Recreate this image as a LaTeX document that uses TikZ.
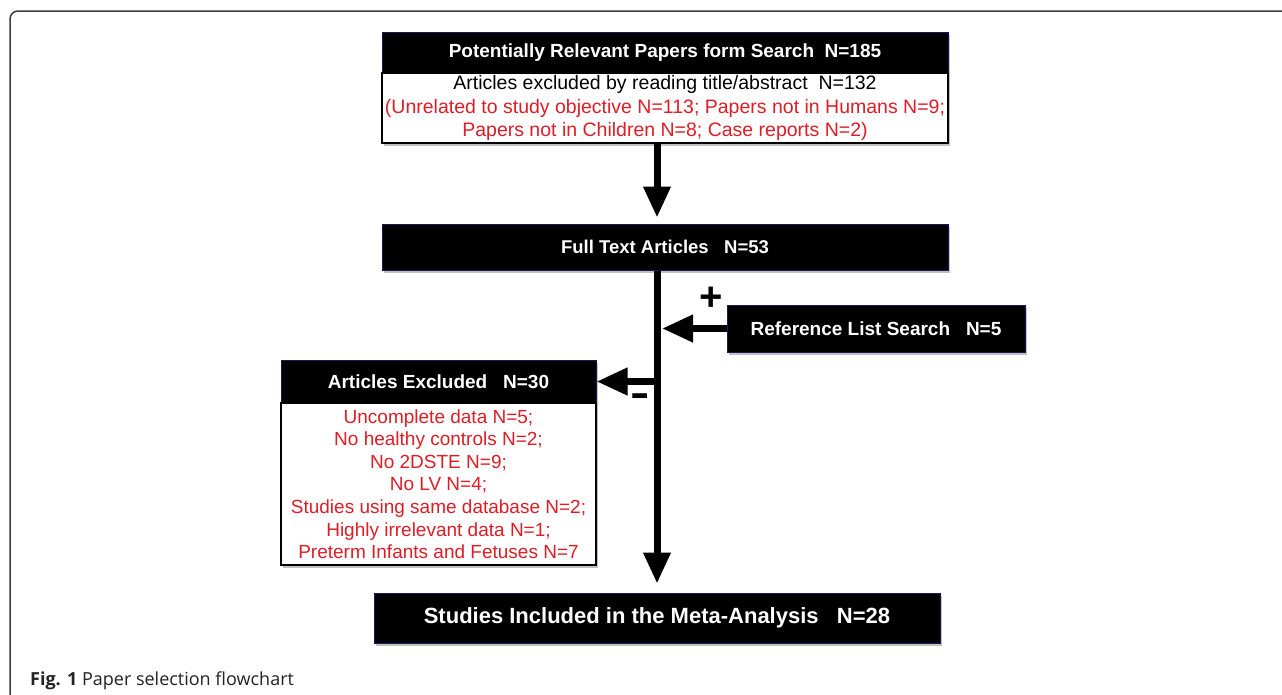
\documentclass[tikz,border=0pt]{standalone}
\usepackage{fontspec}
\setmainfont{Liberation Sans}
\newfontfamily\capfont{Open Sans}
\usetikzlibrary{arrows.meta,shadows}
\definecolor{redtxt}{RGB}{222,30,38}
\definecolor{navy}{RGB}{25,25,95}
\definecolor{framegray}{RGB}{60,60,60}
\definecolor{capgray}{RGB}{35,35,35}
\begin{document}
\begin{tikzpicture}[x=1pt,y=-1pt,
  shad/.style={drop shadow={shadow xshift=2pt,shadow yshift=-3pt,opacity=0.35,fill=black!70}},
  hdr/.style={shad,draw=navy,line width=1pt,fill=black,text=white,inner sep=0pt,align=center},
  bodybox/.style={shad,draw=black,line width=1.3pt,fill=white,inner sep=0pt,align=center},
  flow/.style={line width=7pt,-{Triangle[length=31pt,width=26pt]}},
  sign/.style={inner sep=0pt,font=\bfseries\fontsize{40}{40}\selectfont}
]
\useasboundingbox (0,0) rectangle (1282,694);
\fill[white] (0,0) rectangle (1282,694);
% frame
\draw[framegray,line width=1.5pt,rounded corners=8pt] (10,700) -- (10,11) -- (1290,11);

% top box
\node[hdr,minimum width=566pt,minimum height=41pt,font=\bfseries\fontsize{19}{22}\selectfont] (tophdr) at (665,52.5)
  {Potentially Relevant Papers form Search\ \ N=185};
\node[bodybox,minimum width=566pt,minimum height=70pt,font=\fontsize{19.5}{23.3}\selectfont] (topbody) at (665,108)
  {Articles excluded by reading title/abstract\ \ N=132\\
   \textcolor{redtxt}{(Unrelated to study objective N=113; Papers not in Humans N=9;}\\
   \textcolor{redtxt}{Papers not in Children N=8; Case reports N=2)}};

% full text
\node[hdr,minimum width=566pt,minimum height=46pt,font=\bfseries\fontsize{18.5}{22}\selectfont] (full) at (665,247)
  {Full Text Articles\ \ \ N=53};

% reference list
\node[hdr,minimum width=298pt,minimum height=47pt,font=\bfseries\fontsize{19}{22}\selectfont] (ref) at (876,328.5)
  {Reference List Search\ \ \ N=5};

% excluded
\node[hdr,minimum width=315pt,minimum height=43pt,font=\bfseries\fontsize{19}{22}\selectfont] (exchdr) at (438.5,381.5)
  {Articles Excluded\ \ \ N=30};
\node[bodybox,minimum width=315pt,minimum height=162pt,text=redtxt,font=\fontsize{19}{22.6}\selectfont] (excbody) at (438.5,484)
  {Uncomplete data N=5;\\
   No healthy controls N=2;\\
   No 2DSTE N=9;\\
   No LV N=4;\\
   Studies using same database N=2;\\
   Highly irrelevant data N=1;\\
   Preterm Infants and Fetuses N=7};

% bottom
\node[hdr,minimum width=566pt,minimum height=50pt,font=\bfseries\fontsize{22}{26}\selectfont] (bottom) at (657,618)
  {Studies Included in the Meta-Analysis\ \ \ N=28};

% signs
\node[sign] (plus) at (711,299) {+};
\node[sign] (minus) at (640,400) {\scalebox{1.45}[1]{-}};

% junctions
\coordinate (jref) at (657,328.5);
\coordinate (jexc) at (657,381.5);

% connectors
\draw[flow,shorten >=6pt] (topbody.south -| bottom.north) -- (full.north -| bottom.north);
\draw[flow,shorten >=9pt] (full.south -| bottom.north) -- (bottom.north);
\draw[flow,shorten >=5pt] (ref.west) -- (jref);
\draw[flow] (jexc) -- (exchdr.east);

% caption
\node[anchor=base west,inner sep=0pt,text=capgray,font=\capfont\fontsize{18}{20}\selectfont] (cap) at (30,685)
  {\textbf{Fig. 1} Paper selection flowchart};
\end{tikzpicture}
\end{document}
